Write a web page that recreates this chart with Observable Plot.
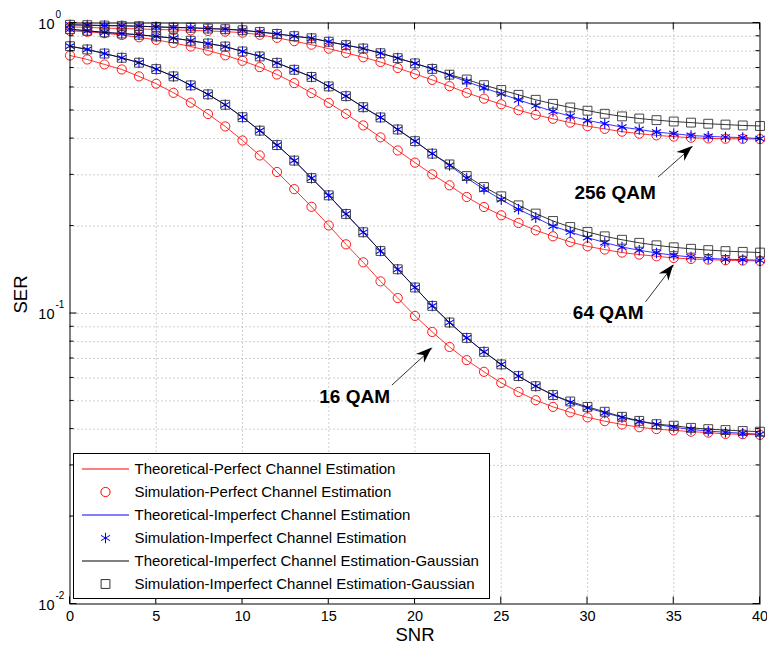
<!DOCTYPE html>
<html>
<head>
<meta charset="utf-8">
<script src="https://cdn.jsdelivr.net/npm/d3@7"></script>
<script src="https://cdn.jsdelivr.net/npm/@observablehq/plot@0.6"></script>
<style>
  html, body { margin: 0; padding: 0; background: #fff; }
  #chart svg { display: block; }
</style>
</head>
<body>
<div id="chart"></div>
<script>
// ---------- data ----------
const snr = [0,1,2,3,4,5,6,7,8,9,10,11,12,13,14,15,16,17,18,19,20,
             21,22,23,24,25,26,27,28,29,30,31,32,33,34,35,36,37,38,39,40];

const qam16Perfect = [0.773,0.749,0.720,0.692,0.655,0.618,0.575,0.532,0.486,0.4405,
  0.394,0.350,0.307,0.268,0.233,0.201,0.173,0.150,0.129,0.113,
  0.0981,0.0864,0.0767,0.0691,0.0630,0.0577,0.0537,0.0503,0.0477,0.0457,
  0.0439,0.0426,0.0415,0.0406,0.0400,0.0396,0.0392,0.0389,0.0385,0.0384,0.0382];
const qam16Imperfect = [0.832,0.811,0.785,0.759,0.730,0.694,0.655,0.610,0.568,0.523,
  0.474,0.426,0.380,0.336,0.2925,0.2551,0.2201,0.1904,0.1641,0.1420,
  0.1229,0.1062,0.0931,0.0824,0.0738,0.0668,0.0609,0.0562,0.0524,0.0494,
  0.0473,0.0455,0.0439,0.0425,0.0415,0.0406,0.0399,0.0394,0.0390,0.0387,0.0384];
const qam16Gaussian = [0.832,0.811,0.785,0.759,0.730,0.694,0.655,0.610,0.568,0.523,
  0.474,0.426,0.380,0.336,0.2925,0.2551,0.2201,0.1904,0.1641,0.1420,
  0.1229,0.1062,0.0931,0.0824,0.0738,0.0668,0.0609,0.0562,0.0524,0.0498,
  0.0477,0.0459,0.0441,0.0427,0.0416,0.0411,0.0404,0.0400,0.0397,0.0394,0.0392];

const qam64Perfect = [0.940,0.933,0.922,0.909,0.893,0.874,0.854,0.830,0.804,0.774,
  0.741,0.705,0.665,0.621,0.574,0.531,0.487,0.444,0.404,0.364,
  0.3306,0.3013,0.2762,0.2518,0.2326,0.2178,0.2049,0.1934,0.1844,0.1763,
  0.1703,0.1660,0.1621,0.1595,0.1574,0.1553,0.1541,0.1533,0.1525,0.1521,0.1516];
const qam64Imperfect = [0.952,0.940,0.928,0.920,0.911,0.899,0.887,0.869,0.850,0.830,
  0.798,0.767,0.729,0.690,0.652,0.605,0.560,0.513,0.473,0.430,
  0.392,0.355,0.3236,0.2925,0.2676,0.2466,0.2284,0.2138,0.2000,0.1908,
  0.1825,0.1754,0.1694,0.1651,0.1616,0.1586,0.1565,0.1549,0.1537,0.1533,0.1525];
const qam64Gaussian = [0.952,0.940,0.928,0.920,0.911,0.899,0.887,0.869,0.850,0.830,
  0.798,0.767,0.729,0.690,0.652,0.605,0.560,0.513,0.473,0.430,
  0.392,0.355,0.326,0.2973,0.2725,0.2532,0.2357,0.2208,0.2082,0.1985,
  0.1908,0.1844,0.1794,0.1751,0.1717,0.1690,0.1670,0.1653,0.1640,0.1630,0.1621];

const qam256Perfect = [0.970,0.966,0.961,0.957,0.954,0.950,0.947,0.943,0.939,0.934,
  0.926,0.911,0.889,0.866,0.842,0.816,0.789,0.762,0.734,0.700,
  0.668,0.637,0.606,0.575,0.549,0.525,0.501,0.483,0.468,0.454,
  0.4414,0.4321,0.4226,0.4159,0.4103,0.4064,0.4029,0.4006,0.3997,0.3991,0.3985];
const qam256Imperfect = [0.986,0.983,0.980,0.978,0.975,0.970,0.965,0.963,0.957,0.952,
  0.944,0.931,0.917,0.901,0.886,0.862,0.839,0.817,0.787,0.757,
  0.726,0.695,0.661,0.628,0.598,0.570,0.544,0.519,0.496,0.478,
  0.462,0.450,0.438,0.430,0.421,0.416,0.410,0.407,0.405,0.403,0.400];
const qam256Gaussian = [0.986,0.983,0.980,0.978,0.975,0.970,0.965,0.963,0.957,0.952,
  0.944,0.931,0.917,0.901,0.886,0.862,0.839,0.817,0.787,0.757,
  0.726,0.695,0.664,0.639,0.611,0.588,0.566,0.544,0.527,0.512,
  0.499,0.487,0.477,0.469,0.463,0.458,0.454,0.450,0.447,0.444,0.442];

const xTicks = [0,5,10,15,20,25,30,35,40];
const yMajorTicks = [1, 0.1, 0.01];
const yExponents = ["0", "-1", "-2"];
const yMinorTicks = [0.02,0.03,0.04,0.05,0.06,0.07,0.08,0.09,0.2,0.3,0.4,0.5,0.6,0.7,0.8,0.9];

const legendLabels = [
  "Theoretical-Perfect Channel Estimation",
  "Simulation-Perfect Channel Estimation",
  "Theoretical-Imperfect Channel Estimation",
  "Simulation-Imperfect Channel Estimation",
  "Theoretical-Imperfect Channel Estimation-Gaussian",
  "Simulation-Imperfect Channel Estimation-Gaussian"
];

const annotationLabels = ["256 QAM", "64 QAM", "16 QAM"];
const annotationTextX = [31.6, 31.2, 16.5];
const annotationTextY = [0.261, 0.1002, 0.0517];
const arrowFromX = [34.09, 33.36, 18.66];
const arrowFromY = [0.295, 0.1096, 0.0567];
const arrowToX = [36.1, 35.0, 21.0];
const arrowToY = [0.376, 0.1470, 0.0760];

// ---------- tables built from the arrays ----------
function rows(values, group) { return snr.map((x, i) => ({snr: x, ser: values[i], group})); }
const perfect = [...rows(qam16Perfect, "16"), ...rows(qam64Perfect, "64"), ...rows(qam256Perfect, "256")];
const imperfect = [...rows(qam16Imperfect, "16"), ...rows(qam64Imperfect, "64"), ...rows(qam256Imperfect, "256")];
const gaussian = [...rows(qam16Gaussian, "16"), ...rows(qam64Gaussian, "64"), ...rows(qam256Gaussian, "256")];
const annotations = annotationLabels.map((label, i) => ({
  label, tx: annotationTextX[i], ty: annotationTextY[i],
  x1: arrowFromX[i], y1: arrowFromY[i], x2: arrowToX[i], y2: arrowToY[i]
}));

const RED = "#ff0000", BLUE = "#0000ff", BLACK = "#000000";
const FONT = "'Liberation Sans', Arial, Helvetica, sans-serif";
const GRID = {stroke: "#8c8c8c", strokeDasharray: "1,3", strokeWidth: 0.8};

const chart = Plot.plot({
  width: 767,
  height: 652,
  marginLeft: 69.5,
  marginRight: 7.5,
  marginTop: 22.5,
  marginBottom: 48.5,
  style: {fontFamily: FONT, fontSize: "14.5px", background: "white", color: "black", overflow: "visible"},
  x: {domain: [0, 40], axis: null},
  y: {type: "log", domain: [0.01, 1], axis: null},
  marks: [
    Plot.ruleX(xTicks.slice(1, -1), GRID),
    Plot.ruleY([...yMinorTicks, 0.1], GRID),
    // perfect
    Plot.line(perfect, {x: "snr", y: "ser", z: "group", stroke: RED, strokeWidth: 0.8}),
    Plot.dot(perfect, {x: "snr", y: "ser", symbol: "circle", r: 4.6, stroke: RED, fill: "none", strokeWidth: 0.9}),
    // imperfect
    Plot.line(imperfect, {x: "snr", y: "ser", z: "group", stroke: BLUE, strokeWidth: 0.8}),
    Plot.dot(imperfect, {x: "snr", y: "ser", symbol: "asterisk", r: 5, stroke: BLUE, strokeWidth: 1.1}),
    // gaussian
    Plot.line(gaussian, {x: "snr", y: "ser", z: "group", stroke: BLACK, strokeWidth: 0.8}),
    Plot.dot(gaussian, {x: "snr", y: "ser", symbol: "square", r: 5, stroke: "#333", fill: "none", strokeWidth: 0.9}),
    // annotations
    Plot.link(annotations, {x1: "x1", y1: "y1", x2: "x2", y2: "y2", stroke: BLACK, strokeWidth: 0.8}),
    Plot.text(annotations, {x: "tx", y: "ty", text: "label", fontWeight: "bold", fontSize: 19, fill: BLACK}),
    // tick labels
    Plot.text(xTicks, {x: d => d, frameAnchor: "bottom", dy: 16.5, text: d => String(d), fontSize: 14.5, fill: BLACK}),
    Plot.text(yMajorTicks, {y: d => d, frameAnchor: "left", dx: -15.5, dy: 1, textAnchor: "end", text: () => "10", fontSize: 14.5, fill: BLACK}),
    Plot.text(yMajorTicks, {y: d => d, frameAnchor: "left", dx: -14.5, dy: -8.5, textAnchor: "start", text: (d, i) => yExponents[i], fontSize: 10, fill: BLACK}),
    // axis labels
    Plot.text(["SNR"], {x: 20, frameAnchor: "bottom", dy: 36.5, text: d => d, fontSize: 18.5, fill: BLACK}),
    Plot.text(["SER"], {y: 0.1, frameAnchor: "left", dx: -49, rotate: -90, text: d => d, fontSize: 18.5, fill: BLACK}),
    Plot.frame({stroke: BLACK, strokeWidth: 1})
  ]
});

document.getElementById("chart").appendChild(chart);

// ---------- inward ticks, arrowheads, legend (using the plot's own scales) ----------
const xs = chart.scale("x"), ys = chart.scale("y");
const svg = d3.select(chart);
const [xL, xR] = [xs.apply(0), xs.apply(40)];
const [yB, yT] = [ys.apply(0.01), ys.apply(1)];
const tg = svg.append("g").attr("stroke", "black").attr("stroke-width", 1);
xTicks.forEach(t => {
  const x = xs.apply(t);
  tg.append("line").attr("x1", x).attr("x2", x).attr("y1", yB).attr("y2", yB - 7);
  tg.append("line").attr("x1", x).attr("x2", x).attr("y1", yT).attr("y2", yT + 7);
});
yMajorTicks.forEach(t => {
  const y = ys.apply(t);
  tg.append("line").attr("x1", xL).attr("x2", xL + 7).attr("y1", y).attr("y2", y);
  tg.append("line").attr("x1", xR).attr("x2", xR - 7).attr("y1", y).attr("y2", y);
});
yMinorTicks.forEach(t => {
  const y = ys.apply(t);
  tg.append("line").attr("x1", xL).attr("x2", xL + 4).attr("y1", y).attr("y2", y);
  tg.append("line").attr("x1", xR).attr("x2", xR - 4).attr("y1", y).attr("y2", y);
});

annotations.forEach(a => {
  const x1 = xs.apply(a.x1), y1 = ys.apply(a.y1), x2 = xs.apply(a.x2), y2 = ys.apply(a.y2);
  const dx = x2 - x1, dy = y2 - y1, len = Math.hypot(dx, dy);
  const ux = dx / len, uy = dy / len, px = -uy, py = ux;
  const L = 16, w = 6, n = 11;
  const pts = [[x2, y2],
    [x2 - ux * L + px * w, y2 - uy * L + py * w],
    [x2 - ux * n, y2 - uy * n],
    [x2 - ux * L - px * w, y2 - uy * L - py * w]];
  svg.append("path").attr("d", "M" + pts.map(p => p.join(",")).join("L") + "Z").attr("fill", "black");
});

// legend
const lg = svg.append("g").attr("text-anchor", "start");
lg.append("rect").attr("x", 73.5).attr("y", 453.5).attr("width", 416).attr("height", 145)
  .attr("fill", "white").attr("stroke", "black").attr("stroke-width", 1);
const rowY = i => 469 + i * 23;
const sym = (type, r) => d3.symbol(type, Math.PI * r * r)();
const legendLineColors = [RED, BLUE, BLACK];
const legendMarkerColors = [RED, BLUE, "#333"];
legendLabels.forEach((label, i) => {
  const y = rowY(i);
  if (i % 2 === 0) {
    const c = legendLineColors[i / 2];
    lg.append("path").attr("d", `M82,${y}H129`)
      .style("stroke", c).style("stroke-width", "1px").style("fill", "none");
  } else {
    const k = (i - 1) / 2;
    const type = [d3.symbolCircle, d3.symbolAsterisk, d3.symbolSquare][k];
    const r = [4.6, 5, 5][k];
    lg.append("path").attr("d", sym(type, r)).attr("transform", `translate(105.5,${y})`)
      .style("fill", "none").style("stroke", legendMarkerColors[k]).style("stroke-width", "1px");
  }
  lg.append("text").attr("x", 134.5).attr("y", y).attr("dy", "0.35em").attr("text-anchor", "start")
    .attr("font-family", FONT).attr("font-size", 15).attr("fill", "black").text(label);
});
</script>
</body>
</html>
